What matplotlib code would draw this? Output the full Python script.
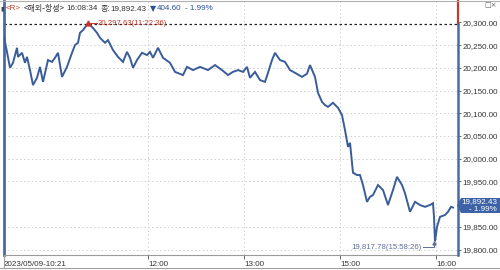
import matplotlib
matplotlib.use("Agg")
import matplotlib.pyplot as plt
import matplotlib.transforms as mtransforms
from matplotlib.patches import Polygon

# ---------------- data ----------------
x_pos = [4, 6, 10, 13, 17, 18, 22, 25, 27, 30, 33, 37, 40, 43, 48, 52, 55, 58, 62, 67,
         72, 75, 78, 80, 83, 88, 92, 97, 100, 105, 108, 113, 118, 123, 127, 130, 133, 137,
         142, 147, 150, 153, 158, 163, 170, 175, 183, 187, 193, 200, 208, 215, 222, 228,
         233, 238, 243, 247, 250, 255, 260, 265, 268, 272, 275, 280, 285, 290, 295, 302,
         307, 310, 315, 318, 322, 325, 328, 333, 338, 342, 345, 348, 350, 353, 357, 360,
         363, 367, 370, 373, 378, 383, 388, 393, 397, 402, 405, 410, 415, 420, 425, 430,
         433, 434, 435, 437, 440, 445, 448, 451, 453]
price = [20268, 20246, 20200, 20211, 20244, 20224, 20233, 20211, 20224, 20195, 20162, 20178,
         20202, 20169, 20217, 20213, 20222, 20233, 20180, 20202, 20233, 20250, 20255, 20277,
         20283, 20297.63, 20290, 20277, 20266, 20255, 20261, 20239, 20224, 20213, 20235,
         20222, 20200, 20217, 20233, 20228, 20235, 20222, 20244, 20222, 20211, 20191, 20184,
         20202, 20195, 20202, 20195, 20206, 20195, 20184, 20191, 20195, 20191, 20202, 20178,
         20191, 20173, 20169, 20189, 20217, 20233, 20217, 20213, 20195, 20189, 20180, 20187,
         20206, 20180, 20145, 20125, 20118, 20114, 20123, 20112, 20096, 20063, 20026, 20035,
         19969, 19964, 19964, 19942, 19905, 19916, 19920, 19942, 19931, 19898, 19931, 19960,
         19942, 19924, 19883, 19905, 19898, 19894, 19898, 19902, 19872, 19817.78, 19850,
         19872, 19876, 19883, 19894, 19892.43]

y_ticks = [19800, 19850, 19950, 20000, 20050, 20100, 20150, 20200, 20250, 20300]
x_tick_pos = [3.5, 148, 244, 340, 436]
x_tick_labels = ["2023/05/09-10:21", "12:00", "13:00", "15:00", "16:00"]

last_price = 19892.43
change = 404.60
change_pct = -1.99
prev_close = last_price + change
high_val, high_time, high_x = 20297.63, "11:22:36", 88
low_val, low_time, low_x = 19817.78, "15:58:26", 435

# ---------------- figure ----------------
W, H = 500, 270
fig = plt.figure(figsize=(5, 2.7), dpi=100)
fig.patch.set_facecolor("white")

def fx(x):
    return x / W

def fy(y):
    return 1 - y / H

ax_left, ax_right, ax_top, ax_bot = 3.5, 458, 1, 255
ax = fig.add_axes([fx(ax_left), fy(ax_bot), (ax_right - ax_left) / W, (ax_bot - ax_top) / H])
ax.set_xlim(ax_left, ax_right)
ax.set_ylim(19788, 20347)

LINE = "#3a5c9a"
BLUE_SP = "#4a6aa3"
RED = "#c0392b"
TXT = "#333333"
FONT = "Liberation Sans"

# grid
for v in y_ticks:
    if v != 20300:
        ax.axhline(v, color="#cfcfcf", lw=0.7, ls=(0, (1.5, 2.5)), zorder=0)
for xp in x_tick_pos[1:]:
    ax.axvline(xp, color="#cfcfcf", lw=0.7, ls=(0, (1.5, 2.5)), zorder=0)

# prev close dashed line
ax.axhline(prev_close, color="#222222", lw=0.9, ls=(0, (2, 2)), zorder=1)

# price line
ax.plot(x_pos, price, color=LINE, lw=1.4, zorder=3, solid_joinstyle="miter")

# spines
for s in ["top", "right"]:
    ax.spines[s].set_visible(False)
ax.spines["left"].set_color(BLUE_SP)
ax.spines["left"].set_linewidth(2.0)
ax.spines["bottom"].set_color("#9a9a9a")
ax.spines["bottom"].set_linewidth(0.8)

# right axis line: red above prev close, blue below
trans = mtransforms.blended_transform_factory(ax.transAxes, ax.transData)
ax.plot([1, 1], [prev_close, 20347], color=RED, lw=1.6, transform=trans, clip_on=False, zorder=5)
ax.plot([1, 1], [19788, prev_close], color=BLUE_SP, lw=1.8, transform=trans, clip_on=False, zorder=5)

# y ticks on right
ax.yaxis.tick_right()
ax.set_yticks(y_ticks)
ax.set_yticklabels([f"{v:,.2f}" for v in y_ticks], fontsize=5.8, color=TXT, family=FONT)
ax.tick_params(axis="y", length=2.5, width=0.6, color="#555555", pad=0.5)

# x ticks
ax.set_xticks(x_tick_pos)
ax.set_xticklabels(x_tick_labels, fontsize=5.8, color=TXT, family=FONT)
for lbl in ax.get_xticklabels():
    lbl.set_ha("left")
ax.tick_params(axis="x", length=3, width=0.6, color="#555555", pad=1.5)

# high annotation
ax.plot([high_x], [high_val], marker="^", color=RED, ms=3.5, zorder=6)
ax.plot([high_x + 2, high_x + 9], [high_val, high_val], color=RED, lw=0.7, zorder=6)
ax.text(high_x + 10, high_val, f"{high_val:,.2f}({high_time})", color=RED, fontsize=5.6,
        family=FONT, va="center", ha="left", zorder=6)

# low annotation
low_text_y = 19805
ax.text(low_x - 13, low_text_y, f"{low_val:,.2f}({low_time})", color="#5d6e96", fontsize=5.6,
        family=FONT, va="center", ha="right", zorder=6)
ax.plot([low_x - 12, low_x - 1, low_x - 1], [low_text_y, low_text_y, low_val - 2],
        color="#5d6e96", lw=0.7, zorder=6)
ax.plot([low_x - 1], [low_val - 3], marker="^", color="#5d6e96", ms=2.2, zorder=6)

# current price box on right axis
box_top, box_bot, box_left, tip_x = 198, 213, 461, 457
tip_y = (box_top + box_bot) / 2
poly = Polygon([(fx(tip_x), fy(tip_y)), (fx(box_left), fy(box_top)), (fx(500), fy(box_top)),
                (fx(500), fy(box_bot)), (fx(box_left), fy(box_bot))],
               closed=True, transform=fig.transFigure, facecolor="#3d63a6", edgecolor="none", zorder=10)
fig.patches.append(poly)
fig.text(fx(497), fy(202), f"{last_price:,.2f}", color="white", fontsize=5.8, family=FONT,
         ha="right", va="center", zorder=11)
fig.text(fx(497), fy(209.5), f"- {abs(change_pct):.2f}%", color="white", fontsize=5.8, family=FONT,
         ha="right", va="center", zorder=11)

# header text pieces, chained so they never overlap
renderer = fig.canvas.get_renderer()
hdr_y = fy(9)
KR = ["Noto Sans CJK KR", "DejaVu Sans"]

def chain(x_px, pieces):
    for txt, color, fam, gap in pieces:
        t = fig.text(fx(x_px), hdr_y, txt, color=color, fontsize=5.8, family=fam, va="center", zorder=12)
        bb = t.get_window_extent(renderer=renderer)
        x_px = bb.x1 + gap
    return x_px

fig.text(fx(0.5), hdr_y, "▮", color="#444444", fontsize=4.5, family="DejaVu Sans", va="center", zorder=12)
chain(5.5, [
    ("<R>", RED, FONT, 3.5),
    ("<해외-항셍>", TXT, KR, 1.5),
    ("16:08:34", TXT, FONT, 2.5),
    ("종:", TXT, KR, 0),
    ("19,892.43", TXT, FONT, 4),
    ("▼", "#2a4f9a", "DejaVu Sans", 0.5),
    (f"{change:.2f}", "#2a4f9a", FONT, 4),
    (f"- {abs(change_pct):.2f}%", "#2a4f9a", FONT, 0),
])

# top-right small icons
fig.text(fx(484), fy(5), "□×", color="#666666", fontsize=5, family="DejaVu Sans", va="center")

# frame lines
fig.add_artist(plt.Line2D([0, 1], [fy(0.5), fy(0.5)], transform=fig.transFigure, color="#b0b0b0", lw=0.8))
fig.add_artist(plt.Line2D([0, 1], [fy(268), fy(268)], transform=fig.transFigure, color="#a0a0a0", lw=0.8))
fig.add_artist(plt.Line2D([fx(3.5), fx(3.5)], [fy(255), fy(268)], transform=fig.transFigure, color="#a0a0a0", lw=0.8))

fig.savefig("out.png", dpi=100, facecolor="white")
